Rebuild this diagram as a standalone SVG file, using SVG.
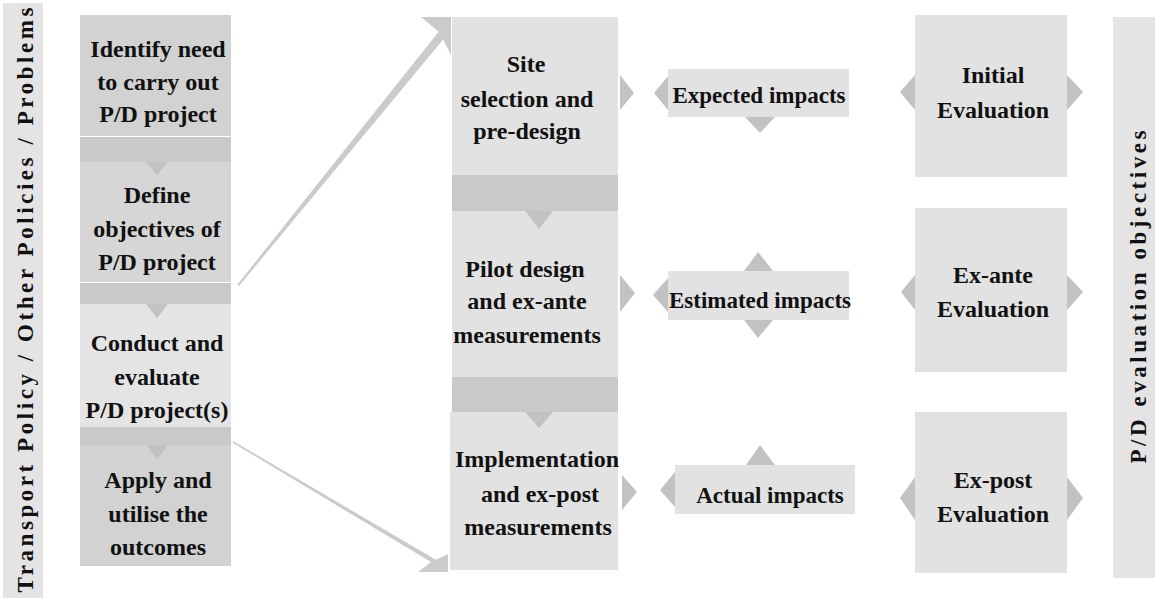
<svg xmlns="http://www.w3.org/2000/svg" width="1155" height="598" viewBox="0 0 1155 598">
<defs>
<style>
.t{font-family:"Liberation Serif","Times New Roman",serif;font-weight:bold;font-size:24px;fill:#111;text-anchor:middle}
.ti{font-size:23px}
.side{font-family:"Liberation Serif","Times New Roman",serif;font-weight:bold;font-size:23px;fill:#111;text-anchor:middle}
.bar{fill:#e4e4e4}
.band{fill:#c9c9c9}
.tri{fill:#c2c2c2}
.box{fill:#e2e2e2}
.arr{fill:#cbcbcb}
</style>
</defs>
<rect width="1155" height="598" fill="#ffffff"/>

<g id="left-bar">
<rect class="bar" x="3" y="3" width="40" height="595"/>
<text class="side" transform="translate(33,300) rotate(-90)" textLength="585" lengthAdjust="spacing">Transport Policy / Other Policies / Problems</text>
</g>

<g id="right-bar">
<rect class="bar" x="1113" y="17" width="42" height="561"/>
<text class="side" transform="translate(1146,297) rotate(-90)" textLength="333" lengthAdjust="spacing">P/D evaluation objectives</text>
</g>

<g id="identify">
<rect x="80" y="15" width="151" height="121" fill="#d2d2d2"/>
<text class="t" x="158" y="57">Identify need</text>
<text class="t" x="158" y="90">to carry out</text>
<text class="t" x="158" y="122">P/D project</text>
</g>
<g id="define">
<rect class="band" x="80" y="137" width="151" height="25"/>
<rect x="80" y="162" width="151" height="120" fill="#d6d6d6"/>
<polygon class="tri" points="146,162 168,162 157,175"/>
<text class="t" x="157" y="203">Define</text>
<text class="t" x="157" y="237">objectives of</text>
<text class="t" x="157" y="270">P/D project</text>
</g>
<g id="conduct">
<rect class="band" x="80" y="283" width="151" height="21"/>
<rect x="80" y="304" width="151" height="123" fill="#e4e4e4"/>
<polygon class="tri" points="146,304 168,304 157,318"/>
<text class="t" x="157" y="351">Conduct and</text>
<text class="t" x="157" y="385">evaluate</text>
<text class="t" x="157" y="418">P/D project(s)</text>
</g>
<g id="apply">
<rect class="band" x="80" y="427" width="151" height="18"/>
<rect x="80" y="445" width="151" height="121" fill="#d2d2d2"/>
<polygon class="tri" points="146,445 168,445 157,459"/>
<text class="t" x="158" y="488">Apply and</text>
<text class="t" x="158" y="522">utilise the</text>
<text class="t" x="158" y="555">outcomes</text>
</g>

<g id="site">
<rect class="box" x="452" y="17" width="166" height="158"/>
<text class="t" x="526" y="72">Site</text>
<text class="t" x="527" y="107">selection and</text>
<text class="t" x="527" y="139">pre-design</text>
<polygon class="tri" points="620,75 634,93 620,110"/>
</g>
<g id="pilot">
<rect class="band" x="452" y="175" width="166" height="36"/>
<rect class="box" x="452" y="211" width="166" height="166"/>
<polygon class="tri" points="525,211 553,211 539,229"/>
<text class="t" x="525" y="277">Pilot design</text>
<text class="t" x="527" y="309">and ex-ante</text>
<text class="t" x="527" y="343">measurements</text>
<polygon class="tri" points="620,275 635,293 620,312"/>
</g>
<g id="implementation">
<rect class="band" x="452" y="377" width="166" height="35"/>
<rect class="box" x="450" y="412" width="168" height="158"/>
<polygon class="tri" points="525,412 553,412 539,428"/>
<text class="t" x="537" y="467">Implementation</text>
<text class="t" x="540" y="502">and ex-post</text>
<text class="t" x="538" y="535">measurements</text>
<polygon class="tri" points="622,475 637,492 622,510"/>
</g>

<g id="expected">
<rect class="box" x="668" y="69" width="181" height="48"/>
<polygon class="tri" points="668,76 654,93 668,110"/>
<polygon class="tri" points="745,117 775,117 760,133"/>
<text class="t ti" x="759" y="103">Expected impacts</text>
</g>
<g id="estimated">
<rect class="box" x="668" y="271" width="181" height="49"/>
<polygon class="tri" points="744,271 773,271 758,252"/>
<polygon class="tri" points="668,278 653,295 668,312"/>
<polygon class="tri" points="744,320 773,320 758,338"/>
<text class="t ti" x="760" y="308">Estimated impacts</text>
</g>
<g id="actual">
<rect class="box" x="675" y="465" width="180" height="49"/>
<polygon class="tri" points="746,465 775,465 760,445"/>
<polygon class="tri" points="675,472 660,490 675,507"/>
<text class="t ti" x="770" y="503">Actual impacts</text>
</g>

<g id="initial">
<rect class="box" x="915" y="15" width="152" height="162"/>
<polygon class="tri" points="915,75 900,92 915,110"/>
<polygon class="tri" points="1067,75 1083,92 1067,110"/>
<text class="t" x="993" y="83">Initial</text>
<text class="t" x="993" y="118">Evaluation</text>
</g>
<g id="exante">
<rect class="box" x="915" y="208" width="152" height="164"/>
<polygon class="tri" points="915,275 901,292 915,310"/>
<polygon class="tri" points="1067,275 1083,292 1067,310"/>
<text class="t" x="993" y="283">Ex-ante</text>
<text class="t" x="993" y="317">Evaluation</text>
</g>
<g id="expost">
<rect class="box" x="915" y="412" width="152" height="161"/>
<polygon class="tri" points="915,477 900,498 915,520"/>
<polygon class="tri" points="1067,477 1083,498 1067,520"/>
<text class="t" x="993" y="488">Ex-post</text>
<text class="t" x="993" y="522">Evaluation</text>
</g>

<g id="connectors">
<polygon class="arr" points="237,285 239,286 446,36 440,30"/>
<polygon class="arr" points="421,17 451,17 451,55 440,33"/>
<polygon class="arr" points="233,441 233,443 436,565 438,561"/>
<polygon class="arr" points="418,572 448,572 448,554 431,562"/>
</g>
</svg>
